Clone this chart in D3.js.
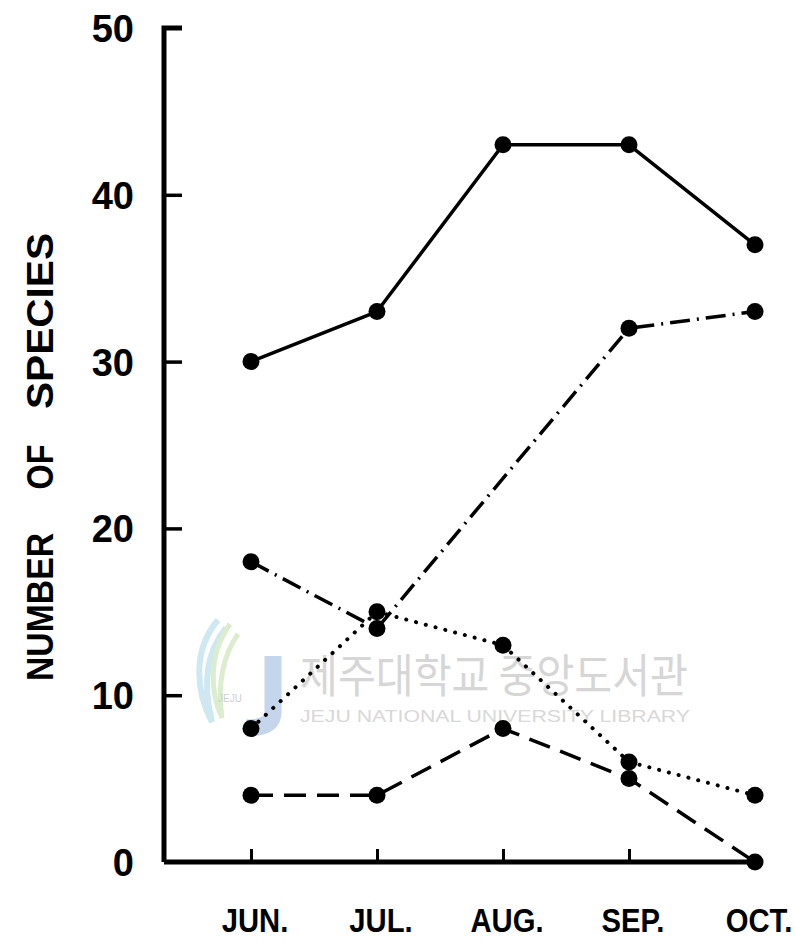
<!DOCTYPE html>
<html>
<head>
<meta charset="utf-8">
<script src="https://cdn.jsdelivr.net/npm/d3@7"></script>
<style>
  html, body { margin: 0; padding: 0; background: #fff; }
  svg { display: block; }
</style>
</head>
<body>
<svg id="chart" width="796" height="942"></svg>
<script>
// Monthly number of species, four groups
const months = ["JUN.", "JUL.", "AUG.", "SEP.", "OCT."];
const yTicks = [0, 10, 20, 30, 40, 50];
const seriesSolid   = [30, 33, 43, 43, 37];
const seriesDashDot = [18, 14, null, 32, 33];
const seriesDotted  = [8, 15, 13, 6, 4];
const seriesDashed  = [4, 4, 8, 5, 0];
const titleWords = ["NUMBER", "OF", "SPECIES"];

const svg = d3.select("#chart");

const x = d3.scalePoint().domain(months).range([251, 755]);
const y = d3.scaleLinear().domain([0, 50]).range([862, 28]);
const axisX = 164;

// Library watermark (faint, behind the plot)
const wm = svg.append("g").attr("class", "watermark").attr("opacity", 0.85);
wm.append("path")
  .attr("d", "M218,620 C192,650 196,692 212,722 C204,690 204,655 226,628")
  .attr("fill", "none").attr("stroke", "#c6e4f0").attr("stroke-width", 6);
wm.append("path")
  .attr("d", "M230,624 C208,655 210,692 222,718 C218,690 220,660 238,634")
  .attr("fill", "none").attr("stroke", "#d6eac6").attr("stroke-width", 5);
wm.append("path")
  .attr("d", "M273,656 L273,712 C273,724 262,728 246,728")
  .attr("fill", "none").attr("stroke", "#bccee8").attr("stroke-width", 17);
wm.append("text")
  .attr("x", 230).attr("y", 702).attr("text-anchor", "middle")
  .attr("font-family", "Liberation Sans, sans-serif").attr("font-size", 10)
  .attr("fill", "#c8c8c8").text("JEJU");
wm.append("text")
  .attr("x", 300).attr("y", 692)
  .attr("font-family", "Noto Sans CJK KR, sans-serif").attr("font-size", 46)
  .attr("textLength", 388).attr("lengthAdjust", "spacingAndGlyphs")
  .attr("fill", "#cfcfcf").text("제주대학교 중앙도서관");
wm.append("text")
  .attr("x", 300).attr("y", 722)
  .attr("font-family", "Liberation Sans, Arial, sans-serif").attr("font-size", 17)
  .attr("textLength", 390).attr("lengthAdjust", "spacingAndGlyphs")
  .attr("fill", "#d2d2d2").text("JEJU NATIONAL UNIVERSITY LIBRARY");

// Axes
const gy = svg.append("g").attr("transform", `translate(${axisX},0)`)
  .call(d3.axisRight(y).tickValues(yTicks).tickSize(18).tickFormat(""));
gy.select(".domain").attr("d", `M18,${y(50)}H0V${y(0)}`)
  .attr("stroke", "#000").attr("stroke-width", 5).attr("fill", "none");
gy.selectAll(".tick line").attr("stroke", "#000").attr("stroke-width", 3.5);
gy.selectAll(".tick").filter(d => d === 0 || d === 50).select("line").remove();

const gx = svg.append("g").attr("transform", `translate(0,${y(0)})`)
  .call(d3.axisTop(x).tickSize(13).tickFormat(""));
gx.select(".domain").attr("d", `M${axisX},0H${x("OCT.")}`)
  .attr("stroke", "#000").attr("stroke-width", 5).attr("fill", "none");
gx.selectAll(".tick line").attr("stroke", "#000").attr("stroke-width", 3);
gx.selectAll(".tick").filter(d => d === "OCT.").select("line").remove();

// Tick labels
svg.append("g").selectAll("text").data(yTicks).join("text")
  .attr("x", 134).attr("y", d => y(d) + 14)
  .attr("text-anchor", "end")
  .attr("font-family", "Liberation Sans, Arial, sans-serif")
  .attr("font-weight", "bold").attr("font-size", 38)
  .text(d => d);

svg.append("g").selectAll("text").data(months).join("text")
  .attr("transform", d => `translate(${x(d) + 4},932) scale(0.86,1)`)
  .attr("text-anchor", "middle")
  .attr("font-family", "Liberation Sans, Arial, sans-serif")
  .attr("font-weight", "bold").attr("font-size", 34)
  .text(d => d);

// Y-axis title, one word at a time with wide gaps
const titleCenters = [607, 467, 321];
const titleLengths = [148, 45, 176];
svg.append("g").selectAll("text").data(titleWords).join("text")
  .attr("transform", (d, i) => `translate(53,${titleCenters[i]}) rotate(-90)`)
  .attr("x", (d, i) => -titleLengths[i] / 2)
  .attr("textLength", (d, i) => titleLengths[i])
  .attr("lengthAdjust", "spacingAndGlyphs")
  .attr("font-family", "Liberation Sans, Arial, sans-serif")
  .attr("font-weight", "bold").attr("font-size", 37)
  .text(d => d);

// Data lines
const line = d3.line().x(d => x(d.m)).y(d => y(d.v));
const styles = [
  { data: seriesSolid,   dash: null,       cap: "round", w: 3.5 },
  { data: seriesDashDot, dash: "20,7,2,7", cap: "butt",  w: 3.5 },
  { data: seriesDotted,  dash: "0.1,10",   cap: "round", w: 4 },
  { data: seriesDashed,  dash: "22,11",    cap: "butt",  w: 3.5 }
];

const plot = svg.append("g");
styles.forEach(s => {
  const pts = months.map((m, i) => ({ m, v: s.data[i] })).filter(p => p.v !== null);
  plot.append("path")
    .attr("d", line(pts))
    .attr("fill", "none")
    .attr("stroke", "#000")
    .attr("stroke-width", s.w)
    .attr("stroke-linecap", s.cap)
    .attr("stroke-linejoin", "round")
    .attr("stroke-dasharray", s.dash);
  plot.append("g").selectAll("circle").data(pts).join("circle")
    .attr("cx", p => x(p.m)).attr("cy", p => y(p.v)).attr("r", 8.5)
    .attr("fill", "#000");
});
</script>
</body>
</html>
